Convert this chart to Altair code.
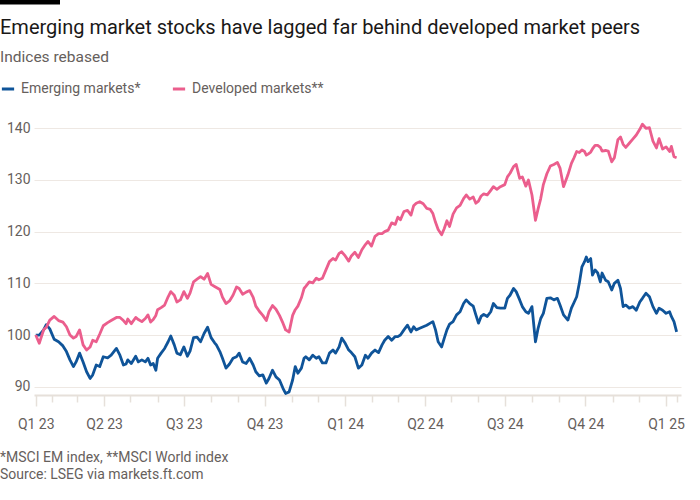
import altair as alt
import pandas as pd

# ---------------- data ----------------
dates = [
    "2023-01-13", "2023-01-17", "2023-01-22", "2023-01-25", "2023-01-29",
    "2023-02-03", "2023-02-08", "2023-02-13", "2023-02-17", "2023-02-21", "2023-02-25", "2023-02-28",
    "2023-03-04", "2023-03-08", "2023-03-12", "2023-03-16", "2023-03-19", "2023-03-23", "2023-03-27", "2023-03-31",
    "2023-04-05", "2023-04-09", "2023-04-15", "2023-04-19", "2023-04-23", "2023-04-26", "2023-04-28",
    "2023-05-02", "2023-05-07", "2023-05-10", "2023-05-14", "2023-05-18", "2023-05-21", "2023-05-24", "2023-05-27", "2023-05-30",
    "2023-06-01", "2023-06-05", "2023-06-09", "2023-06-13", "2023-06-16", "2023-06-20", "2023-06-23", "2023-06-27",
    "2023-07-01", "2023-07-05", "2023-07-08", "2023-07-12", "2023-07-16", "2023-07-20", "2023-07-24", "2023-07-28",
    "2023-08-01", "2023-08-05", "2023-08-07", "2023-08-11", "2023-08-14", "2023-08-18", "2023-08-22", "2023-08-26", "2023-08-30",
    "2023-09-02", "2023-09-06", "2023-09-10", "2023-09-14", "2023-09-18", "2023-09-21", "2023-09-25", "2023-09-29",
    "2023-10-03", "2023-10-06", "2023-10-10", "2023-10-14", "2023-10-18", "2023-10-22", "2023-10-25", "2023-10-29",
    "2023-11-02", "2023-11-05", "2023-11-08", "2023-11-12", "2023-11-15", "2023-11-17", "2023-11-21", "2023-11-25", "2023-11-29",
    "2023-12-02", "2023-12-06", "2023-12-10", "2023-12-14", "2023-12-18", "2023-12-21", "2023-12-25", "2023-12-28",
    "2024-01-01", "2024-01-05", "2024-01-08", "2024-01-12", "2024-01-16", "2024-01-20", "2024-01-24", "2024-01-27", "2024-01-31",
    "2024-02-04", "2024-02-08", "2024-02-12", "2024-02-15", "2024-02-19", "2024-02-23", "2024-02-27",
    "2024-03-01", "2024-03-04", "2024-03-08", "2024-03-12", "2024-03-16", "2024-03-19", "2024-03-22", "2024-03-26", "2024-03-30",
    "2024-04-03", "2024-04-07", "2024-04-10", "2024-04-13", "2024-04-16", "2024-04-20", "2024-04-23", "2024-04-26", "2024-04-29",
    "2024-05-03", "2024-05-07", "2024-05-11", "2024-05-15", "2024-05-18", "2024-05-22", "2024-05-26", "2024-05-29",
    "2024-06-01", "2024-06-04", "2024-06-07", "2024-06-11", "2024-06-15", "2024-06-18", "2024-06-22", "2024-06-26",
    "2024-07-01", "2024-07-04", "2024-07-07", "2024-07-11", "2024-07-14", "2024-07-18", "2024-07-21", "2024-07-25", "2024-07-28",
    "2024-08-01", "2024-08-05", "2024-08-08", "2024-08-11", "2024-08-14", "2024-08-18", "2024-08-22", "2024-08-26", "2024-08-30",
    "2024-09-02", "2024-09-06", "2024-09-11", "2024-09-15", "2024-09-18", "2024-09-21", "2024-09-24", "2024-09-27", "2024-09-30",
    "2024-10-02", "2024-10-04", "2024-10-07", "2024-10-09", "2024-10-12", "2024-10-15", "2024-10-18", "2024-10-20", "2024-10-24", "2024-10-27", "2024-10-31",
    "2024-11-03", "2024-11-07", "2024-11-10", "2024-11-13", "2024-11-16", "2024-11-20", "2024-11-24", "2024-11-28",
    "2024-12-02", "2024-12-05", "2024-12-09", "2024-12-13", "2024-12-17", "2024-12-21", "2024-12-24", "2024-12-28",
    "2025-01-01", "2025-01-05", "2025-01-07", "2025-01-10", "2025-01-13",
]

emerging = [
    100.0, 100.0, 101.0, 102.0, 101.2,
    99.2, 98.7, 97.9, 96.8, 95.2, 93.9, 94.8,
    96.5, 94.8, 92.9, 91.6, 92.3, 94.2, 93.9, 95.8,
    95.6, 96.1, 97.4, 96.1, 94.2, 94.4, 95.2,
    94.5, 95.9, 94.8, 95.2, 94.8, 95.5, 94.2, 94.5, 93.2,
    95.5, 96.5, 97.4, 98.7, 99.8, 98.1, 96.5, 96.2,
    97.7, 95.9, 96.9, 99.5, 99.6, 98.7, 100.3, 101.5,
    99.5, 98.5, 98.1, 96.8, 95.5, 93.6, 94.4, 95.5, 95.8,
    96.5, 94.8, 94.5, 95.5, 94.2, 92.9, 92.1, 92.3,
    90.7, 91.6, 93.2, 91.9, 91.3, 89.7, 88.7, 89.0,
    91.3, 93.9, 92.6, 93.6, 95.5, 95.8, 95.2, 96.1, 95.5,
    95.8, 94.6, 94.6, 96.5, 97.1, 96.5, 97.7, 99.4,
    98.4, 97.1, 96.6, 95.8, 93.6, 94.2, 96.1, 95.5, 96.5,
    97.1, 96.6, 98.1, 99.0, 99.7, 99.0, 99.7,
    99.7, 100.0, 101.0, 101.9, 100.6, 101.6, 101.0, 101.3, 101.6,
    101.9, 102.3, 102.6, 101.0, 98.7, 97.7, 99.4, 101.0, 102.1,
    102.6, 103.9, 104.5, 106.1, 106.8, 106.1, 105.6, 103.9,
    102.3, 103.6, 104.0, 103.6, 104.5, 106.1, 105.3, 105.2,
    105.2, 107.1, 107.7, 109.0, 108.4, 106.8, 105.5, 104.5, 104.2,
    105.5, 98.7, 101.3, 103.2, 104.2, 107.1, 107.2, 106.8, 107.1,
    105.8, 103.9, 102.9, 105.2, 106.3, 107.4, 110.0, 113.2, 114.2,
    115.1, 114.2, 114.8, 111.6, 112.6, 112.0, 110.3, 112.0, 110.6, 110.3, 108.7,
    110.0, 110.6, 109.0, 105.5, 105.8, 105.2, 105.5, 104.8,
    106.4, 107.1, 108.1, 107.4, 105.5, 104.2, 105.2, 104.8,
    104.2, 104.5, 103.6, 102.6, 100.6,
]

developed = [
    100.0, 98.4, 101.0, 101.5, 102.9,
    103.6, 102.8, 102.5, 101.6, 100.0, 99.4, 99.7,
    101.0, 98.1, 97.1, 97.7, 99.0, 98.7, 100.2, 101.8,
    102.4, 102.8, 103.4, 103.4, 102.8, 102.2, 103.1,
    102.2, 103.4, 103.0, 102.6, 103.2, 103.9, 102.5, 103.0, 103.8,
    104.9, 105.3, 105.8, 107.4, 108.4, 107.7, 106.4, 106.8,
    108.4, 107.1, 108.1, 110.3, 110.8, 111.3, 110.8, 111.9,
    109.8, 109.4, 109.2, 108.8, 107.3, 106.1, 106.6, 107.7, 109.3,
    109.0, 107.9, 108.3, 108.6, 107.3, 105.6, 104.6, 103.8,
    102.8, 104.5, 105.7, 105.0, 103.8, 102.3, 101.0, 100.6,
    103.8, 104.9, 105.6, 107.2, 109.0, 109.4, 110.3, 110.1, 111.0,
    110.7, 111.0, 112.6, 114.2, 114.8, 114.5, 115.8, 116.1,
    115.3, 114.3, 115.3, 116.0, 115.0, 116.5, 117.5, 118.1, 117.2,
    119.1, 119.6, 119.6, 120.0, 120.3, 121.7, 121.4,
    122.8, 122.3, 123.9, 124.1, 123.2, 125.0, 125.5, 125.8, 125.4,
    124.5, 124.3, 123.5, 121.8, 120.4, 119.4, 120.6, 122.1, 121.0,
    123.4, 124.6, 125.1, 126.4, 127.1, 126.3, 126.7, 125.5,
    125.9, 126.9, 127.3, 127.1, 128.0, 128.7, 128.2, 128.7,
    129.1, 130.6, 131.3, 132.6, 133.0, 130.3, 130.6, 128.8, 130.0,
    127.1, 122.2, 124.4, 126.4, 129.1, 131.2, 132.7, 133.0, 133.4,
    132.3, 128.7, 131.0, 133.2, 134.3, 135.5, 135.3, 135.8, 135.5,
    134.8, 135.0, 135.4, 136.0, 136.7, 136.7, 136.3, 135.6, 135.7, 135.6, 133.5,
    134.3, 137.8, 138.3, 136.9, 136.3, 137.1, 137.9, 138.7,
    139.8, 140.8, 140.0, 140.1, 137.5, 136.2, 138.0, 136.0,
    136.4, 135.5, 136.5, 134.5, 134.3,
]

series_names = ["Emerging markets*", "Developed markets**"]
y_ticks = [90, 100, 110, 120, 130, 140]
x_tick_dates = [
    "2023-01-13", "2023-02-01", "2023-03-01", "2023-04-01", "2023-05-01", "2023-06-01",
    "2023-07-01", "2023-08-01", "2023-09-01", "2023-10-01", "2023-11-01", "2023-12-01",
    "2024-01-01", "2024-02-01", "2024-03-01", "2024-04-01", "2024-05-01", "2024-06-01",
    "2024-07-01", "2024-08-01", "2024-09-01", "2024-10-01", "2024-11-01", "2024-12-01",
    "2025-01-01", "2025-01-13",
]
x_domain_dates = ["2023-01-11", "2025-01-18"]

title_text = "Emerging market stocks have lagged far behind developed market peers"
subtitle_text = "Indices rebased"
note_text = "*MSCI EM index, **MSCI World index"
source_text = "Source: LSEG via markets.ft.com"

# ---------------- styling ----------------
FONT = "Roboto"
BLUE = "#0F5499"
PINK = "#EB5E8D"
GREY_TEXT = "#66605C"
GRID = "#EEE8E3"
AXIS = "#E6E0DA"

W, H = 647, 275
PAD = {"left": 34, "top": 120, "right": 19, "bottom": 105}


def ms(s):
    return int(pd.Timestamp(s, tz="UTC").timestamp() * 1000)


df = pd.DataFrame({"date": dates, series_names[0]: emerging, series_names[1]: developed})
long = df.melt("date", var_name="series", value_name="value")

quarter_test = (
    "(utcdate(datum.value) == 1 && utcmonth(datum.value) % 3 == 0) || "
    "(utcyear(datum.value) == 2023 && utcmonth(datum.value) == 0)"
)

lines = alt.Chart(long).mark_line(strokeWidth=2.8, strokeJoin="round").encode(
    x=alt.X(
        "date:T",
        scale=alt.Scale(type="utc", domain=[ms(d) for d in x_domain_dates]),
        axis=alt.Axis(
            values=[ms(d) for d in x_tick_dates],
            labelExpr="(" + quarter_test + ") ? 'Q' + (floor(utcmonth(datum.value) / 3) + 1) + ' ' + utcFormat(datum.value, '%y') : ''",
            title=None,
            grid=False,
            domainColor=AXIS,
            domainWidth=2,
            tickColor=AXIS,
            tickWidth=1.5,
            tickSize={"condition": {"test": quarter_test, "value": 11}, "value": 7},
            labelFont=FONT,
            labelFontSize=14,
            labelColor=GREY_TEXT,
            labelPadding=11,
            labelFlush=False,
            labelOverlap=False,
        ),
    ),
    y=alt.Y(
        "value:Q",
        scale=alt.Scale(domain=[88.4, 141.6], nice=False, zero=False),
        axis=alt.Axis(
            values=y_ticks,
            title=None,
            domain=False,
            ticks=False,
            gridColor=GRID,
            gridWidth=1,
            labelFont=FONT,
            labelFontSize=14,
            labelColor=GREY_TEXT,
            labelPadding=4,
        ),
    ),
    color=alt.Color(
        "series:N",
        scale=alt.Scale(domain=series_names, range=[BLUE, PINK]),
        legend=alt.Legend(
            orient="none",
            legendX=-34,
            legendY=-39,
            direction="horizontal",
            title=None,
            symbolType="stroke",
            symbolStrokeWidth=3,
            symbolSize=150,
            labelFont=FONT,
            labelFontSize=14,
            labelColor=GREY_TEXT,
            labelOffset=5,
            columnPadding=25,
        ),
    ),
    order=alt.Order("date:T"),
)


def text_layer(txt, y, size, color, weight="normal"):
    return alt.Chart(pd.DataFrame({"t": [txt]})).mark_text(
        align="left", baseline="alphabetic", font=FONT, fontSize=size, color=color, fontWeight=weight
    ).encode(x=alt.value(-PAD["left"]), y=alt.value(y - PAD["top"]), text="t:N")


bar = alt.Chart(pd.DataFrame({"a": [0]})).mark_rule(color="#000000", strokeWidth=4.5, strokeCap="butt").encode(
    x=alt.value(-PAD["left"]), x2=alt.value(60 - PAD["left"]), y=alt.value(2.2 - PAD["top"])
)

chart = alt.layer(
    lines,
    bar,
    text_layer(title_text, 34, 20, "#1A1817"),
    text_layer(subtitle_text, 62, 15.5, GREY_TEXT),
    text_layer(note_text, 462, 14, GREY_TEXT),
    text_layer(source_text, 479, 14, GREY_TEXT),
).properties(
    width=W,
    height=H,
    autosize=alt.AutoSizeParams(type="none"),
    padding=PAD,
    background="#FFFFFF",
).configure_view(stroke=None)

chart.save("out.html", embed_options={"renderer": "svg", "actions": False})
